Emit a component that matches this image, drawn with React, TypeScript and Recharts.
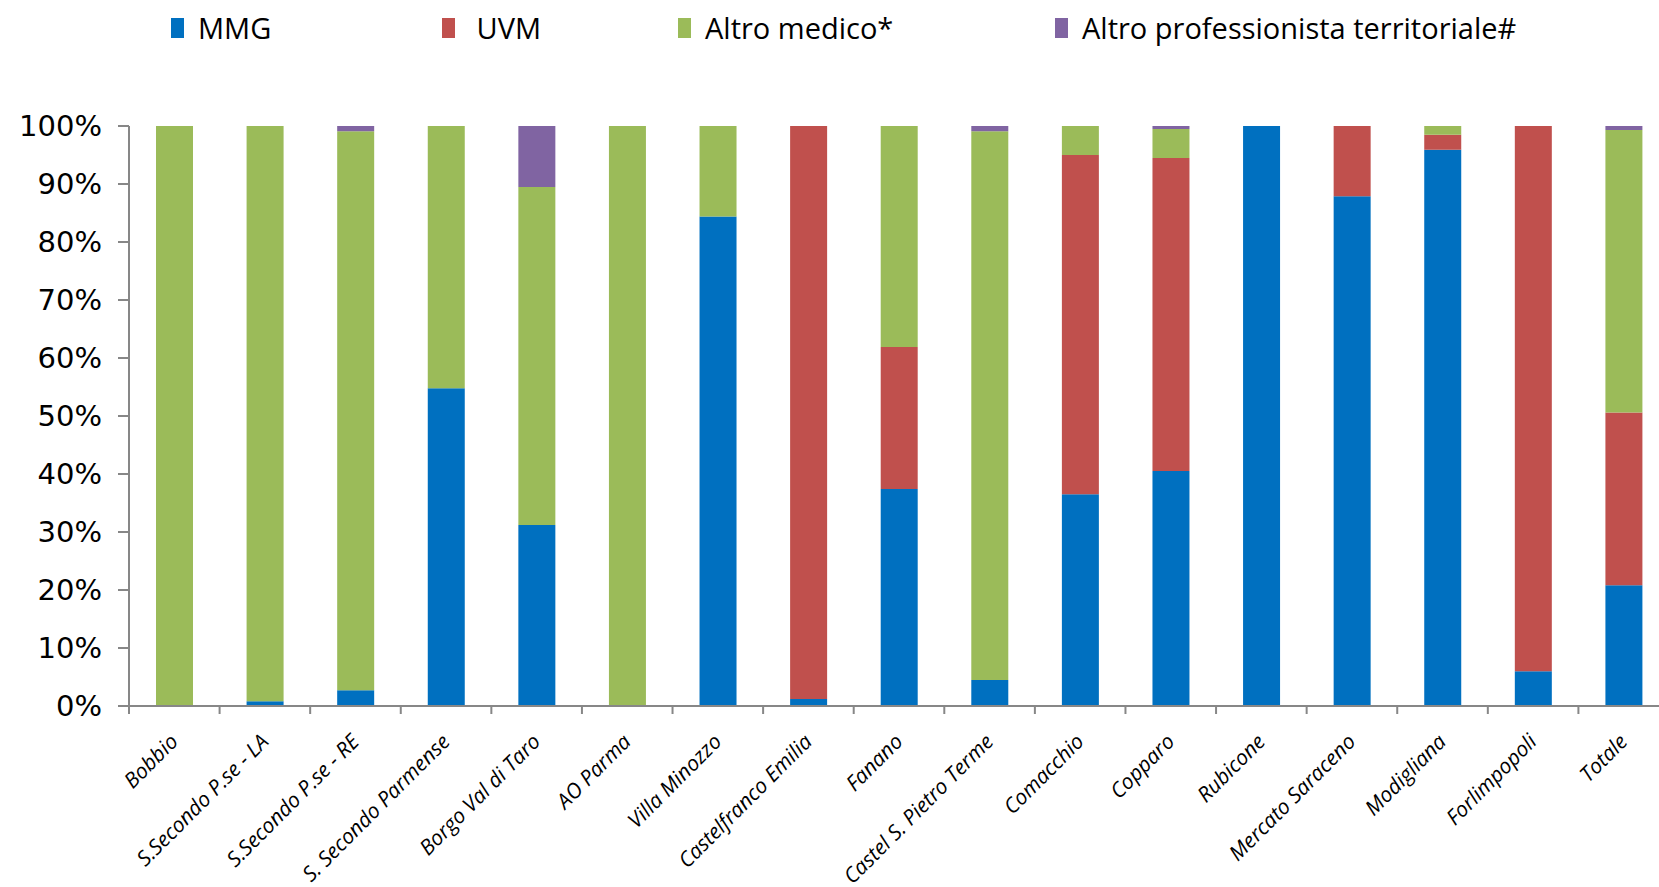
import { Bar, BarChart, XAxis, YAxis } from 'recharts';

const categories = [
    'Bobbio',
    'S.Secondo P.se - LA',
    'S.Secondo P.se - RE',
    'S. Secondo Parmense',
    'Borgo Val di Taro',
    'AO Parma',
    'Villa Minozzo',
    'Castelfranco Emilia',
    'Fanano',
    'Castel S. Pietro Terme',
    'Comacchio',
    'Copparo',
    'Rubicone',
    'Mercato Saraceno',
    'Modigliana',
    'Forlimpopoli',
    'Totale',
];

// percent shares per category
const mmg = [0, 0.8, 2.7, 54.8, 31.2, 0, 84.4, 1.2, 37.4, 4.5, 36.5, 40.5, 100, 87.9, 95.9, 6.0, 20.8];
const uvm = [0, 0, 0, 0, 0, 0, 0, 98.8, 24.5, 0, 58.5, 54.0, 0, 12.1, 2.6, 94.0, 29.8];
const altroMedico = [100, 99.2, 96.4, 45.2, 58.3, 100, 15.6, 0, 38.1, 94.6, 5.0, 5.0, 0, 0, 1.5, 0, 48.7];
const altroProf = [0, 0, 0.9, 0, 10.5, 0, 0, 0, 0, 0.9, 0, 0.5, 0, 0, 0, 0, 0.7];

const yTicks = [0, 0.1, 0.2, 0.3, 0.4, 0.5, 0.6, 0.7, 0.8, 0.9, 1];

const series = [
    { key: 'mmg', name: 'MMG', color: '#0070C0' },
    { key: 'uvm', name: ' UVM', color: '#C0504D' },
    { key: 'altroMedico', name: 'Altro medico*', color: '#9BBB59' },
    { key: 'altroProf', name: 'Altro professionista territoriale#', color: '#8064A2' },
];

const data = categories.map((name, i) => ({
    name,
    mmg: mmg[i],
    uvm: uvm[i],
    altroMedico: altroMedico[i],
    altroProf: altroProf[i],
}));

const CHART_W = 1690;
const CHART_H = 887;
const MARGIN = { top: 126, right: 21, bottom: 0, left: 0 };
const Y_AXIS_W = 129;
const X_AXIS_H = 181;
const PLOT_BOTTOM = CHART_H - MARGIN.bottom - X_AXIS_H;
const HALF_BAND = (CHART_W - MARGIN.left - MARGIN.right - Y_AXIS_W) / categories.length / 2;
const AXIS_COLOR = '#878787';
const LEGEND_X = [171, 442, 678, 1055];

function CategoryTick({ x, payload, index }: any) {
    const left = x - HALF_BAND;
    const tx = x + 5;
    const ty = PLOT_BOTTOM + 37;
    return (
        <g>
            <line x1={left} x2={left} y1={PLOT_BOTTOM} y2={PLOT_BOTTOM + 8} stroke={AXIS_COLOR} strokeWidth={2} />
            {index === categories.length - 1 && (
                <line
                    x1={x + HALF_BAND}
                    x2={x + HALF_BAND}
                    y1={PLOT_BOTTOM}
                    y2={PLOT_BOTTOM + 8}
                    stroke={AXIS_COLOR}
                    strokeWidth={2}
                />
            )}
            <text
                x={tx}
                y={ty}
                textAnchor="end"
                transform={`rotate(-45 ${tx} ${ty})`}
                fontFamily="'Open Sans', sans-serif"
                fontStyle="italic"
                fontSize={21}
                fill="#000"
            >
                {payload.value}
            </text>
        </g>
    );
}

export default function App() {
    return (
        <div
            style={{
                position: 'absolute',
                left: 0,
                top: 0,
                width: 1659,
                height: 887,
                overflow: 'hidden',
                background: '#fff',
            }}
        >
            {series.map((s, i) => (
                <div
                    key={s.key}
                    style={{
                        position: 'absolute',
                        left: LEGEND_X[i],
                        top: 8,
                        display: 'flex',
                        alignItems: 'center',
                        fontFamily: "'Open Sans', sans-serif",
                        fontSize: 29,
                        color: '#000',
                        whiteSpace: 'pre',
                    }}
                >
                    <span style={{ display: 'inline-block', width: 13, height: 20, background: s.color, marginRight: 14 }} />
                    {s.name}
                </div>
            ))}
            <BarChart width={CHART_W} height={CHART_H} data={data} margin={MARGIN} stackOffset="expand">
                <XAxis
                    dataKey="name"
                    interval={0}
                    height={X_AXIS_H}
                    tickLine={false}
                    stroke={AXIS_COLOR}
                    strokeWidth={2}
                    tick={<CategoryTick />}
                />
                <YAxis
                    width={Y_AXIS_W}
                    domain={[0, 1]}
                    ticks={yTicks}
                    tickFormatter={(v: number) => `${Math.round(v * 100)}%`}
                    stroke={AXIS_COLOR}
                    strokeWidth={2}
                    tickSize={11}
                    tickMargin={16}
                    tick={{ fontFamily: "'DejaVu Sans', sans-serif", fontSize: 29, fill: '#000' }}
                />
                {series.map((s) => (
                    <Bar
                        key={s.key}
                        dataKey={s.key}
                        name={s.name}
                        stackId="a"
                        fill={s.color}
                        barSize={37}
                        isAnimationActive={false}
                    />
                ))}
            </BarChart>
        </div>
    );
}
